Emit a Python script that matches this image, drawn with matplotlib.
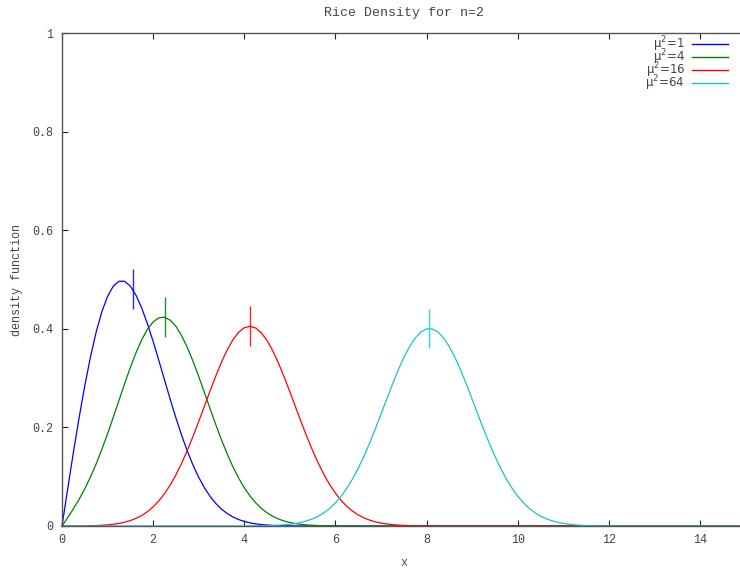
import numpy as np
import matplotlib
matplotlib.use("Agg")
import matplotlib.pyplot as plt

# sample positions along x (step 0.125 from 0 to 15)
x = np.arange(0, 15.0001, 0.125)

# density values (curve for mu^2 = 1, 4, 16, 64)
dens_mu1 = [0, 0.0755, 0.1493, 0.2195, 0.2846, 0.3430, 0.3934, 0.4346, 0.4658,
            0.4865, 0.4965, 0.4963, 0.4864, 0.4678, 0.4420, 0.4102, 0.3742,
            0.3357, 0.2961, 0.2569, 0.2192, 0.1840, 0.1519, 0.1234, 0.0987,
            0.0776, 0.0600, 0.0457, 0.0343, 0.0253, 0.0183, 0.0131, 0.0092,
            0.0064, 0.0043, 0.0029, 0.0019, 0.0012, 0.0008, 0.0005, 0.0003,
            0.0002, 0.0001, 0.0001]
dens_mu4 = [0, 0.0170, 0.0349, 0.0542, 0.0756, 0.0995, 0.1262, 0.1555, 0.1871,
            0.2205, 0.2548, 0.2889, 0.3217, 0.3517, 0.3779, 0.3990, 0.4140,
            0.4223, 0.4235, 0.4175, 0.4049, 0.3861, 0.3622, 0.3341, 0.3033,
            0.2707, 0.2378, 0.2055, 0.1747, 0.1461, 0.1203, 0.0974, 0.0776,
            0.0609, 0.0470, 0.0357, 0.0267, 0.0196, 0.0142, 0.0101, 0.0071,
            0.0049, 0.0033, 0.0022, 0.0015, 0.0009, 0.0006, 0.0004, 0.0002,
            0.0001, 0.0001]
dens_mu16 = [0, 0.0000, 0.0001, 0.0002, 0.0003, 0.0006, 0.0009, 0.0015, 0.0023,
             0.0035, 0.0052, 0.0077, 0.0110, 0.0155, 0.0214, 0.0291, 0.0388,
             0.0509, 0.0657, 0.0832, 0.1038, 0.1272, 0.1533, 0.1817, 0.2119,
             0.2430, 0.2742, 0.3044, 0.3324, 0.3572, 0.3776, 0.3929, 0.4022,
             0.4051, 0.4016, 0.3918, 0.3761, 0.3553, 0.3304, 0.3023, 0.2723,
             0.2413, 0.2105, 0.1808, 0.1528, 0.1271, 0.1040, 0.0838, 0.0665,
             0.0519, 0.0399, 0.0302, 0.0225, 0.0165, 0.0119, 0.0084, 0.0059,
             0.0041, 0.0027, 0.0018, 0.0012, 0.0008, 0.0005, 0.0003, 0.0002,
             0.0001, 0.0001]
# mu^2 = 64 is flat at zero up to x = 3.875
dens_mu64 = [0.0] * 32 + [
             0.0001, 0.0002, 0.0003, 0.0004, 0.0007, 0.0010, 0.0016, 0.0024,
             0.0035, 0.0051, 0.0074, 0.0105, 0.0146, 0.0200, 0.0270, 0.0358,
             0.0469, 0.0603, 0.0765, 0.0953, 0.1170, 0.1414, 0.1682, 0.1969,
             0.2269, 0.2573, 0.2873, 0.3158, 0.3416, 0.3638, 0.3813, 0.3935,
             0.3997, 0.3997, 0.3934, 0.3812, 0.3636, 0.3414, 0.3155, 0.2871,
             0.2571, 0.2267, 0.1967, 0.1681, 0.1414, 0.1171, 0.0954, 0.0765,
             0.0605, 0.0470, 0.0360, 0.0271, 0.0201, 0.0147, 0.0106, 0.0075,
             0.0052, 0.0036, 0.0024, 0.0016, 0.0010, 0.0007, 0.0004, 0.0003,
             0.0002, 0.0001, 0.0001]

labels = ['μ$^2$=1', 'μ$^2$=4', 'μ$^2$=16', 'μ$^2$=64']
colors = ['#0000ff', '#008000', '#ff0000', '#19c4c4']

# short vertical markers at the mean of each curve
mean_x = [1.55, 2.27, 4.12, 8.06]
mark_lo = [0.440, 0.383, 0.365, 0.361]
mark_hi = [0.521, 0.464, 0.446, 0.440]

txt = '#444444'
mono = 'Liberation Mono'

fig = plt.figure(figsize=(7.4, 5.71), dpi=100)
ax = fig.add_axes([62 / 740, 45 / 571, 683.6 / 740, 493 / 571])

series = [dens_mu1, dens_mu4, dens_mu16, dens_mu64]
for y, c in zip(series, colors):
    y = y + [0.0] * (len(x) - len(y))
    ax.plot(x, y, color=c, lw=0.9, clip_on=False)

for mx, lo, hi, c in zip(mean_x, mark_lo, mark_hi, colors):
    ax.vlines(mx, lo, hi, color=c, lw=1.0, alpha=0.85)

ax.set_xlim(0, 15)
ax.set_ylim(0, 1)
ax.set_xticks(range(0, 15, 2))
ax.set_yticks([0, 0.2, 0.4, 0.6, 0.8, 1])
ax.set_yticklabels(['0', '0.2', '0.4', '0.6', '0.8', '1'])
ax.tick_params(direction='in', length=4.3, width=0.8, color='#222222',
               top=True, right=True, labelsize=8.5, labelcolor=txt, pad=6)
for lab in ax.get_xticklabels() + ax.get_yticklabels():
    lab.set_fontfamily(mono)
for s in ax.spines.values():
    s.set_color('#555555')
    s.set_linewidth(1.0)

ax.set_title('Rice Density for n=2', fontfamily=mono, fontsize=9.5,
             color=txt, pad=12)
ax.set_xlabel('x', fontfamily=mono, fontsize=8.5, color=txt, labelpad=8)
ax.set_ylabel('density function', fontfamily=mono, fontsize=8.5, color=txt,
              labelpad=7)

# key in the upper right, text right-aligned before the line sample
row_off = [10.7, 24.3, 37.3, 50.3]
for lab, c, off in zip(labels, colors, row_off):
    yy = 1 - off / 493
    ax.plot([0.9216, 0.974], [yy, yy], color=c, lw=1.0,
            transform=ax.transAxes, clip_on=False)
    ax.text(0.911, yy, lab, transform=ax.transAxes, ha='right', va='center',
            fontsize=8.5, color=txt, family='DejaVu Sans')

fig.savefig('out.png', dpi=100)
